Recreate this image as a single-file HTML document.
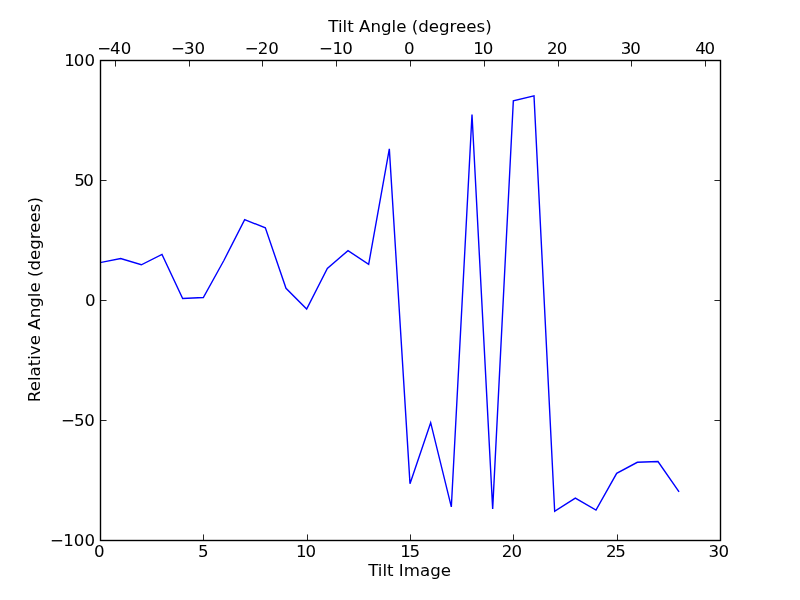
<!DOCTYPE html>
<html><head><meta charset="utf-8"><title>Tilt plot</title>
<style>
html,body{margin:0;padding:0;background:#fff;}
body{width:800px;height:600px;overflow:hidden;}
svg{display:block;}
text{font-family:"DejaVu Sans","Liberation Sans",sans-serif;font-size:16.67px;fill:#000;}
</style></head><body>
<svg width="800" height="600" viewBox="0 0 800 600">
<rect x="0" y="0" width="800" height="600" fill="#ffffff"/>
<defs><clipPath id="axclip"><rect x="100" y="60" width="620" height="480"/></clipPath></defs>
<polyline clip-path="url(#axclip)" points="100.00,262.62 120.67,258.54 141.33,264.78 162.00,254.46 182.67,298.50 203.33,297.49 224.00,260.22 244.67,219.66 265.33,227.82 286.00,288.30 306.67,309.11 327.33,268.38 348.00,250.62 368.67,264.30 389.33,148.86 410.00,483.66 430.67,422.70 451.33,506.94 472.00,114.54 492.67,508.86 513.33,100.86 534.00,95.94 554.67,511.26 575.33,498.06 596.00,510.06 616.67,473.34 637.33,462.30 658.00,461.58 678.67,491.34" fill="none" stroke="#0000ff" stroke-width="1.39" stroke-linejoin="miter" stroke-linecap="square"/>
<rect x="100.5" y="60.5" width="620" height="480" fill="none" stroke="#000" stroke-width="1.39"/>
<path d="M100.5 540.5 v-6.06 M203.5 540.5 v-6.06 M307.5 540.5 v-6.06 M410.5 540.5 v-6.06 M513.5 540.5 v-6.06 M617.5 540.5 v-6.06 M720.5 540.5 v-6.06 M100.5 540.5 h6.06 M720.5 540.5 h-6.06 M100.5 420.5 h6.06 M720.5 420.5 h-6.06 M100.5 300.5 h6.06 M720.5 300.5 h-6.06 M100.5 180.5 h6.06 M720.5 180.5 h-6.06 M100.5 60.5 h6.06 M720.5 60.5 h-6.06 M115.5 60.5 v6.06 M189.5 60.5 v6.06 M262.5 60.5 v6.06 M336.5 60.5 v6.06 M410.5 60.5 v6.06 M484.5 60.5 v6.06 M558.5 60.5 v6.06 M631.5 60.5 v6.06 M705.5 60.5 v6.06" stroke="#000" stroke-width="0.85" fill="none"/>
<text x="94.0" y="557.0">0</text>
<text x="198.0" y="557.0">5</text>
<text x="296.1 305.5" y="557.0">10</text>
<text x="400.3 409.5" y="557.0">15</text>
<text x="501.7 511.6" y="557.0">20</text>
<text x="606.1 615.3" y="557.0">25</text>
<text x="708.6 718.5" y="557.0">30</text>
<text x="50.0 63.3 73.8 84.5" y="546.1">−100</text>
<text x="61.1 74.0 84.3" y="426.1">−50</text>
<text x="84.9" y="306.1">0</text>
<text x="74.2 83.3" y="186.1">50</text>
<text x="64.3 73.8 84.5" y="66.1">100</text>
<text x="97.2 110.0 120.7" y="54.4">−40</text>
<text x="171.0 183.9 194.5" y="54.4">−30</text>
<text x="244.8 257.7 268.2" y="54.4">−20</text>
<text x="319.1 332.6 342.2" y="54.4">−10</text>
<text x="404.1" y="54.4">0</text>
<text x="473.2 482.7" y="54.4">10</text>
<text x="547.0 556.7" y="54.4">20</text>
<text x="620.8 630.2" y="54.4">30</text>
<text x="695.2 704.5" y="54.4">40</text>
<text x="410" y="32" text-anchor="middle">Tilt Angle (degrees)</text>
<text x="409.6" y="576" text-anchor="middle">Tilt Image</text>
<text transform="translate(40,299.6) rotate(-90)" text-anchor="middle">Relative Angle (degrees)</text>
</svg>
</body></html>
